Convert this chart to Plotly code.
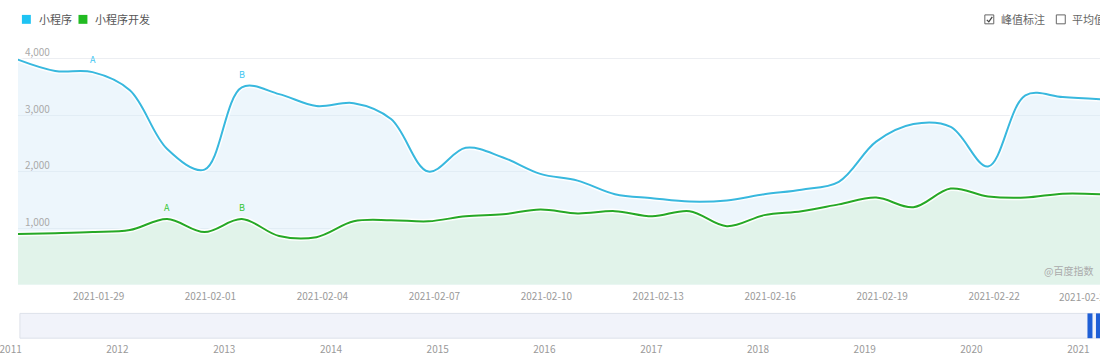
import plotly.graph_objects as go

# ---- data ----
dates = ["2021-01-27", "2021-01-28", "2021-01-29", "2021-01-30", "2021-01-31",
         "2021-02-01", "2021-02-02", "2021-02-03", "2021-02-04", "2021-02-05",
         "2021-02-06", "2021-02-07", "2021-02-08", "2021-02-09", "2021-02-10",
         "2021-02-11", "2021-02-12", "2021-02-13", "2021-02-14", "2021-02-15",
         "2021-02-16", "2021-02-17", "2021-02-18", "2021-02-19", "2021-02-20",
         "2021-02-21", "2021-02-22", "2021-02-23", "2021-02-24", "2021-02-25"]
series1_name = "小程序"
series2_name = "小程序开发"
series1 = [3980, 3780, 3760, 3440, 2400, 2035, 3490, 3370, 3160, 3210,
           2930, 2000, 2420, 2250, 1960, 1840, 1600, 1530, 1470, 1490,
           1600, 1680, 1820, 2530, 2840, 2790, 2090, 3350, 3320, 3280]
series2 = [895, 910, 930, 965, 1160, 930, 1160, 860, 840, 1120,
           1140, 1120, 1210, 1245, 1330, 1260, 1300, 1210, 1300, 1035,
           1230, 1300, 1420, 1540, 1370, 1700, 1560, 1540, 1610, 1600]
peaks1 = [("A", 2), ("B", 6)]
peaks2 = [("A", 4), ("B", 6)]
tick_dates = ["2021-01-29", "2021-02-01", "2021-02-04", "2021-02-07", "2021-02-10",
              "2021-02-13", "2021-02-16", "2021-02-19", "2021-02-22"]
y_ticks = [1000, 2000, 3000, 4000]
overview_range = ["2010-12-23", "2021-03-16"]
checkbox_labels = ["峰值标注", "平均值"]
watermark = "@百度指数"

FONT = "Noto Sans CJK SC, Microsoft YaHei, sans-serif"
BLUE = "#38b8de"
GREEN = "#26a826"
W, H = 1100, 360

fig = go.Figure()
# areas with white halo
fig.add_trace(go.Scatter(x=dates, y=series1, mode="lines", line=dict(color="rgba(255,255,255,0.9)", width=5, shape="spline", smoothing=1),
                         fill="tozeroy", fillcolor="rgba(214,236,248,0.45)", showlegend=False, hoverinfo="skip"))
fig.add_trace(go.Scatter(x=dates, y=series2, mode="lines", line=dict(color="rgba(255,255,255,0.9)", width=5, shape="spline", smoothing=1),
                         fill="tozeroy", fillcolor="#e1f3ea", showlegend=False, hoverinfo="skip"))
fig.add_trace(go.Scatter(x=dates, y=series1, mode="lines", name=series1_name,
                         line=dict(color=BLUE, width=2, shape="spline", smoothing=1), showlegend=False))
fig.add_trace(go.Scatter(x=dates, y=series2, mode="lines", name=series2_name,
                         line=dict(color=GREEN, width=2, shape="spline", smoothing=1), showlegend=False))
# overview axis (empty)
fig.add_trace(go.Scatter(x=[], y=[], xaxis="x2", yaxis="y2", showlegend=False))

ann = []
for lab, i in peaks1:
    ann.append(dict(x=dates[i], y=series1[i], xref="x", yref="y", text=lab, showarrow=False,
                    yshift=13, font=dict(family=FONT, size=9, color="#3cc6f2")))
for lab, i in peaks2:
    ann.append(dict(x=dates[i], y=series2[i], xref="x", yref="y", text=lab, showarrow=False,
                    yshift=12, font=dict(family=FONT, size=9, color="#33c633")))
# last date label at the right edge
ann.append(dict(x=1057 / W, y=1 - 296 / H, xref="paper", yref="paper", text=dates[-1], showarrow=False,
                xanchor="left", yanchor="middle",
                font=dict(family=FONT, size=10, color="#9a9a9a")))
# legend
shapes = []
legend_items = [(series1_name, "#1ec3f3", 14, 29), (series2_name, "#22bb22", 71, 86)]
for name, col, sx, tx in legend_items:
    shapes.append(dict(type="rect", xref="paper", yref="paper", x0=sx / W, x1=(sx + 9) / W,
                       y0=1 - 21 / H, y1=1 - 12 / H, fillcolor=col, line=dict(width=0)))
    ann.append(dict(x=tx / W, y=1 - 16.5 / H, xref="paper", yref="paper", text=name, showarrow=False,
                    xanchor="left", yanchor="middle", font=dict(family=FONT, size=11, color="#555")))
# checkboxes
for k, (lab, bx) in enumerate(zip(checkbox_labels, [984, 1056])):
    shapes.append(dict(type="rect", xref="paper", yref="paper", x0=bx / W, x1=(bx + 9) / W,
                       y0=1 - 21 / H, y1=1 - 12 / H, fillcolor="white", line=dict(color="#666", width=1)))
    if k == 0:
        shapes.append(dict(type="path", xref="paper", yref="paper",
                           path=f"M {(bx+2)/W} {1-17/H} L {(bx+4)/W} {1-19/H} L {(bx+7.5)/W} {1-14/H}",
                           line=dict(color="#444", width=1.3)))
    ann.append(dict(x=(bx + 14) / W, y=1 - 16.5 / H, xref="paper", yref="paper", text=lab, showarrow=False,
                    xanchor="left", yanchor="middle", font=dict(family=FONT, size=11, color="#666")))
# watermark
ann.append(dict(x=1095 / W, y=1 - 270 / H, xref="paper", yref="paper", text=watermark, showarrow=False,
                xanchor="right", yanchor="middle", font=dict(family=FONT, size=10, color="#aaaaaa")))
# overview slider
shapes.append(dict(type="rect", xref="paper", yref="y2 domain", x0=12 / W, x1=1.005, y0=0, y1=1,
                   fillcolor="#f1f3fa", line=dict(color="#dde1ea", width=1)))
for d, off in ((dates[0], 4), (dates[-1], 4)):
    shapes.append(dict(type="rect", xref="x2", yref="y2 domain", xsizemode="pixel", xanchor=d,
                       x0=off - 2.5, x1=off + 2.5, y0=0, y1=1, fillcolor="#1f5fd6", line=dict(width=0)))

fig.update_layout(
    width=W, height=H, margin=dict(l=0, r=0, t=0, b=0),
    paper_bgcolor="white", plot_bgcolor="rgba(0,0,0,0)",
    showlegend=False, annotations=ann, shapes=shapes,
    font=dict(family=FONT, size=10, color="#999"),
    xaxis=dict(domain=[10 / W, 1], type="date", range=[dates[0], dates[-1]], anchor="y",
               tickvals=tick_dates, tickformat="%Y-%m-%d", ticklabelshift=6, ticklabelstandoff=4,
               showgrid=False, zeroline=False, showline=False, ticks="",
               tickfont=dict(family=FONT, size=10, color="#9a9a9a")),
    yaxis=dict(domain=[1 - 284 / H, 1 - 44.6 / H], range=[0, 4200], anchor="x",
               tickvals=y_ticks, tickformat=",", ticklabelposition="inside", ticklabelshift=-6,
               ticklabelstandoff=4, ticklabeloverflow="allow", showgrid=True, gridcolor="#eceef2", gridwidth=1,
               zeroline=False, showline=False, ticks="",
               tickfont=dict(family=FONT, size=10, color="#aaa")),
    xaxis2=dict(domain=[0, 1], type="date", range=overview_range, anchor="y2",
                tick0="2011-01-01", dtick="M12", tickformat="%Y", ticklabeloverflow="allow",
                ticklabelstandoff=4,
                showgrid=False, zeroline=False, showline=False, ticks="",
                tickfont=dict(family=FONT, size=10, color="#9a9a9a")),
    yaxis2=dict(domain=[1 - 338 / H, 1 - 313 / H], range=[0, 1], visible=False, anchor="x2"),
)

fig.write_html("out.html", config={"displayModeBar": False},
               post_script="document.body.style.margin='0px';document.body.style.overflow='hidden';")
